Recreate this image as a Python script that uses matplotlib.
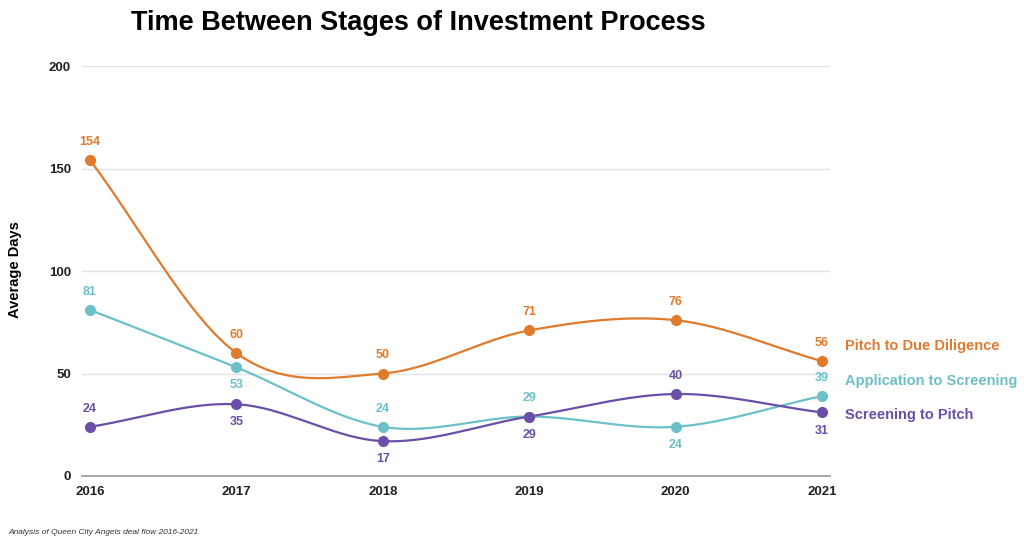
import numpy as np
import matplotlib.pyplot as plt

plt.rcParams['font.family'] = ['Liberation Sans', 'DejaVu Sans']

years = [2016, 2017, 2018, 2019, 2020, 2021]
pitch_dd = [154, 60, 50, 71, 76, 56]
app_screen = [81, 53, 24, 29, 24, 39]
screen_pitch = [24, 35, 17, 29, 40, 31]

series = [
    ("Pitch to Due Diligence", pitch_dd, "#e07a2c", [1, 1, 1, 1, 1, 1]),
    ("Application to Screening", app_screen, "#6cc1c9", [1, -1, 1, 1, -1, 1]),
    ("Screening to Pitch", screen_pitch, "#6a4fa8", [1, -1, -1, -1, 1, -1]),
]


def smooth(x, y, n=40):
    # catmull-rom style cubic hermite through the points
    x = np.asarray(x, float)
    y = np.asarray(y, float)
    m = np.zeros_like(y)
    m[1:-1] = (y[2:] - y[:-2]) / (x[2:] - x[:-2])
    m[0] = (y[1] - y[0]) / (x[1] - x[0])
    m[-1] = (y[-1] - y[-2]) / (x[-1] - x[-2])
    xs, ys = [], []
    for i in range(len(x) - 1):
        h = x[i + 1] - x[i]
        t = np.linspace(0, 1, n)
        h00 = 2 * t**3 - 3 * t**2 + 1
        h10 = t**3 - 2 * t**2 + t
        h01 = -2 * t**3 + 3 * t**2
        h11 = t**3 - t**2
        xs.append(x[i] + t * h)
        ys.append(h00 * y[i] + h10 * h * m[i] + h01 * y[i + 1] + h11 * h * m[i + 1])
    return np.concatenate(xs), np.concatenate(ys)


fig = plt.figure(figsize=(10.24, 5.46), dpi=100)
ax = fig.add_axes([82 / 1024, 1 - 476 / 546, 748 / 1024, 410 / 546])

for name, vals, col, pos in series:
    sx, sy = smooth(years, vals)
    ax.plot(sx, sy, color=col, lw=1.6, zorder=3, clip_on=False)
    ax.plot(years, vals, 'o', color=col, ms=7, zorder=4, clip_on=False)
    for xv, yv, p in zip(years, vals, pos):
        ax.annotate(str(yv), (xv, yv), xytext=(0, 13 * p), textcoords='offset points',
                    ha='center', va='center', color=col, fontsize=9, fontweight='bold')

for (name, vals, col, pos), ly in zip(series, [346, 381, 415]):
    fig.text(845 / 1024, 1 - ly / 546, name, color=col, fontsize=10.5, fontweight='bold',
             ha='left', va='center')

ax.set_xlim(2015.945, 2021.055)
ax.set_ylim(0, 200)
ax.set_yticks([0, 50, 100, 150, 200])
ax.set_xticks(years)
ax.grid(axis='y', color='#e3e3e3', lw=1)
ax.set_axisbelow(True)
for s in ['top', 'right', 'left']:
    ax.spines[s].set_visible(False)
ax.spines['bottom'].set_color('#999999')
ax.spines['bottom'].set_linewidth(1.2)
ax.tick_params(length=0, labelsize=9.5)
ax.tick_params(axis='y', pad=8)
ax.tick_params(axis='x', pad=7)
for lab in ax.get_xticklabels() + ax.get_yticklabels():
    lab.set_fontweight('bold')
    lab.set_color('#222222')

fig.text(15 / 1024, 1 - 270 / 546, "Average Days", rotation=90, fontsize=10.5,
         fontweight='bold', ha='center', va='center')
fig.text(418 / 1024, 1 - 23 / 546, "Time Between Stages of Investment Process",
         fontsize=19.5, fontweight='bold', ha='center', va='center')
fig.text(8 / 1024, 1 - 533 / 546, "Analysis of Queen City Angels deal flow 2016-2021",
         fontsize=6, style='italic', color='#333333', ha='left', va='center')

fig.savefig('out.png', dpi=100)
